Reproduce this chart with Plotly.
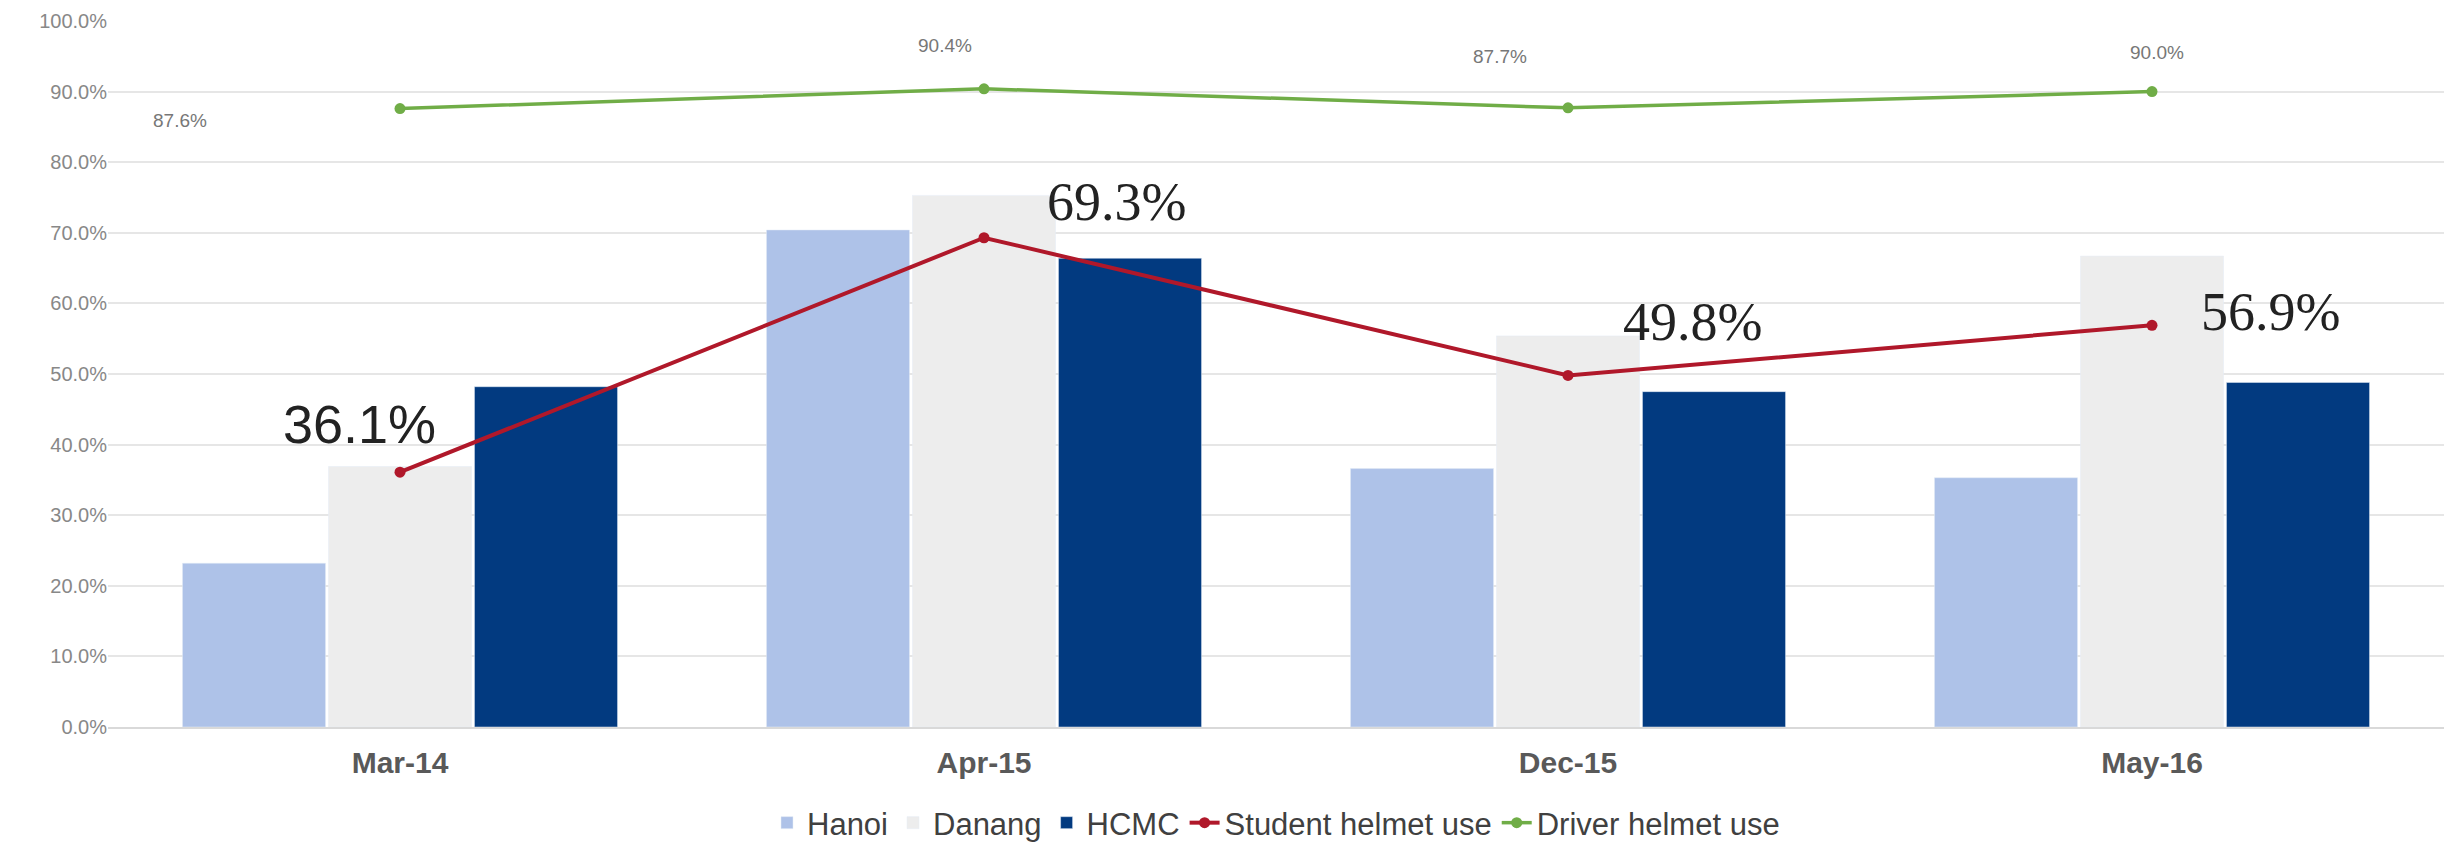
import plotly.graph_objects as go

categories = ["Mar-14", "Apr-15", "Dec-15", "May-16"]
hanoi = [0.232, 0.704, 0.366, 0.353]
danang = [0.369, 0.753, 0.554, 0.667]
hcmc = [0.482, 0.664, 0.475, 0.488]
student = [0.361, 0.693, 0.498, 0.569]
driver = [0.876, 0.904, 0.877, 0.900]
y_ticks = [0.0, 0.1, 0.2, 0.3, 0.4, 0.5, 0.6, 0.7, 0.8, 0.9, 1.0]

fig = go.Figure()
fig.add_trace(go.Bar(name="Hanoi", x=categories, y=hanoi, marker_color="#AEC2E8"))
fig.add_trace(go.Bar(name="Danang", x=categories, y=danang, marker_color="#EDEDED"))
fig.add_trace(go.Bar(name="HCMC", x=categories, y=hcmc, marker_color="#023A80"))
fig.add_trace(go.Scatter(name="Student helmet use", x=categories, y=student,
                         mode="lines+markers", line=dict(color="#B0182A", width=4),
                         marker=dict(color="#B0182A", size=11)))
fig.add_trace(go.Scatter(name="Driver helmet use", x=categories, y=driver,
                         mode="lines+markers", line=dict(color="#70AD47", width=3.5),
                         marker=dict(color="#70AD47", size=11)))

# data labels
stu_shift = [(-41, 48), (132, 36), (124, 53), (118, 13)]
stu_font = ["Liberation Sans", "Liberation Serif", "Liberation Serif", "Liberation Serif"]
for i, (c, v) in enumerate(zip(categories, student)):
    dx, dy = stu_shift[i]
    fig.add_annotation(x=c, y=v, text=f"{v*100:.1f}%", showarrow=False,
                       xshift=dx, yshift=dy,
                       font=dict(family=stu_font[i], size=54, color="#222222"))

drv_shift = [(-220, -12), (-39, 43), (-68, 51), (5, 39)]
for i, (c, v) in enumerate(zip(categories, driver)):
    dx, dy = drv_shift[i]
    fig.add_annotation(x=c, y=v, text=f"{v*100:.1f}%", showarrow=False,
                       xshift=dx, yshift=dy,
                       font=dict(family="Liberation Sans", size=19, color="#777777"))

fig.update_layout(
    width=2450, height=841,
    margin=dict(l=100, r=14, t=13, b=122, autoexpand=False),
    paper_bgcolor="white", plot_bgcolor="white",
    barmode="group", bargap=0.25, bargroupgap=0.02,
    font=dict(family="Liberation Sans", color="#595959"),
    showlegend=True,
    legend=dict(orientation="h", x=0.5, xanchor="center", y=-0.136, yanchor="middle",
                font=dict(size=31, color="#404040"), traceorder="normal",
                itemwidth=30),
    xaxis=dict(showgrid=False, showline=True, linecolor="#D9D9D9", linewidth=2,
               tickfont=dict(size=30, color="#595959", family="Liberation Sans"),
               ticklabelstandoff=8, ticks=""),
    yaxis=dict(range=[0, 1.0], tickvals=y_ticks, tickformat=".1%",
               showgrid=True, gridcolor="#E6E6E6", gridwidth=2,
               zeroline=False, showline=False, ticklabeloverflow="allow",
               tickfont=dict(size=20, color="#888888")),
)
fig.update_xaxes(tickprefix="<b>", ticksuffix="</b>")

fig.write_html("out.html")
